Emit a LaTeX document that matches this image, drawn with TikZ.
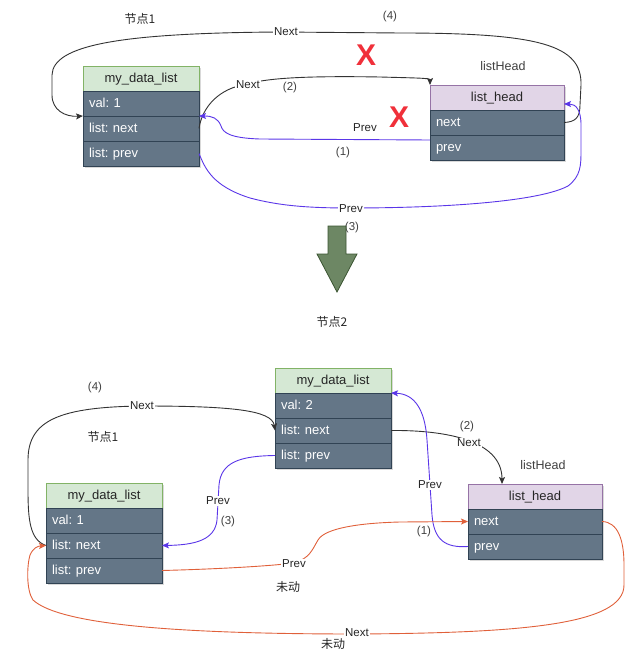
\documentclass[tikz,border=0pt]{standalone}
\usepackage{fontspec}
\setmainfont{Liberation Sans}
\newfontfamily\cjk{Noto Sans CJK SC}
\usetikzlibrary{arrows.meta,shadows,calc}
\definecolor{hdrgreen}{HTML}{D5E8D4}
\definecolor{hdrgreenln}{HTML}{82B366}
\definecolor{hdrpurple}{HTML}{E1D5E7}
\definecolor{hdrpurpleln}{HTML}{9673A6}
\definecolor{rowfill}{HTML}{647687}
\definecolor{rowln}{HTML}{314354}
\definecolor{lnblue}{HTML}{5A36E8}
\definecolor{lnred}{HTML}{E0603A}
\definecolor{lnblack}{HTML}{333333}
\definecolor{arrgreen}{HTML}{6D8764}
\definecolor{arrgreenln}{HTML}{3A5431}
\definecolor{xred}{HTML}{F0303A}
\frenchspacing
\begin{document}
\begin{tikzpicture}[x=1pt,y=-1pt,
  shd/.style={drop shadow={shadow xshift=1.5pt,shadow yshift=-2pt,opacity=0.25,fill=black!60}},
  cell/.style={draw, line width=0.9pt, minimum height=25pt, inner ysep=0pt, outer sep=0pt,
    anchor=north west, text height=10.5pt, text depth=2pt, font=\fontsize{13}{15}\selectfont\frenchspacing, shd},
  hdrA/.style={cell, fill=hdrgreen, draw=hdrgreenln, text=black!85, minimum width=116pt, inner xsep=0pt},
  hdrH/.style={cell, fill=hdrpurple, draw=hdrpurpleln, text=black!85, minimum width=134pt, inner xsep=0pt},
  rowA/.style={cell, fill=rowfill, draw=rowln, text=white, inner xsep=6pt, text width=104pt, align=left},
  rowH/.style={cell, fill=rowfill, draw=rowln, text=white, inner xsep=6pt, text width=122pt, align=left},
  lbl/.style={fill=white, inner sep=1pt, font=\fontsize{11.5}{13}\selectfont, text=black!85},
  txt/.style={inner sep=0pt, font=\fontsize{11.5}{13}\selectfont, text=black!75},
  bigtxt/.style={inner sep=0pt, font=\fontsize{12.5}{14}\selectfont, text=black!75},
  cjktxt/.style={inner sep=0pt, font=\cjk\fontsize{12}{13}\selectfont, text=black!85},
  bigx/.style={inner sep=0pt, text=xred, font=\fontsize{30}{30}\selectfont\bfseries},
  conn/.style={line width=0.9pt, -{Stealth[length=7pt,width=6pt,inset=1.5pt]}},
  cblack/.style={conn, draw=lnblack},
  cblue/.style={conn, draw=lnblue},
  cred/.style={conn, draw=lnred}
]
\useasboundingbox (0,0) rectangle (625,652);

% ---------------- top part ----------------
\node[hdrA] (Ah) at (83,66) {my\_data\_list};
\node[rowA] (Av) at (Ah.south west) {val: 1};
\node[rowA] (An) at (Av.south west) {list: next};
\node[rowA] (Ap) at (An.south west) {list: prev};

\node[hdrH] (Hh) at (430,85) {list\_head};
\node[rowH] (Hn) at (Hh.south west) {next};
\node[rowH] (Hp) at (Hn.south west) {prev};

\node[cjktxt] (t1) at (140,19) {节点1};
\node[txt] (t4) at (390,17) {(4)};
\node[bigtxt] (tlh) at (503,66) {listHead};
\node[bigx] (x1) at (366,55) {X};
\node[bigx] (x2) at (399,117) {X};

% (4) Next
\draw[cblack] (Hn.east) .. controls (575,122) and (580,118) .. (580,105)
  -- (581,85) .. controls (582,45) and (540,33) .. (400,33)
  -- (280,32) .. controls (120,33) and (53,45) .. (52,75)
  -- (52,95) .. controls (52,110) and (65,117) .. (An.north west);
\node[lbl] (l4) at (286,32) {Next};

% (2) Next
\draw[cblack] (An.east) .. controls (202,108) and (218,88) .. (248,84)
  .. controls (270,77) and (320,76) .. (380,77)
  .. controls (415,78) and (430,78) .. (Hh.north west);
\node[lbl] (l2) at (248,85) {Next};
\node[txt] (t2) at (290,88) {(2)};

% (1) Prev
\coordinate (Hpa) at ($(Hp.north west)+(0,5)$);
\draw[cblue] (Hpa) -- (260,139) .. controls (228,138) and (223,132) .. (221,126)
  .. controls (218,118) and (212,116) .. (An.north east);
\node[lbl] (l1) at (365,128) {Prev};
\node[txt] (t1b) at (343,153) {(1)};

% (3) Prev
\coordinate (Hhb) at ($(Hh.south east)+(0,-6)$);
\draw[cblue] (Ap.east) .. controls (205,168) and (212,186) .. (250,198)
  .. controls (280,206) and (310,208) .. (350,208)
  .. controls (450,208) and (540,201) .. (568,186)
  .. controls (581,176) and (581,165) .. (581,150)
  -- (581,125) .. controls (581,110) and (576,104) .. (Hhb);
\node[lbl] (l3) at (351,209) {Prev};
\node[txt] (t3) at (352,228) {(3)};

% big green arrow
\draw[fill=arrgreen, draw=arrgreenln, line width=0.8pt]
  (328,226) -- (346,226) -- (346,254) -- (357,254) -- (337,292) -- (317,254) -- (328,254) -- cycle;
\node[cjktxt] (t5) at (332,322) {节点2};

% ---------------- bottom part ----------------
\node[hdrA] (Bh) at (275,368) {my\_data\_list};
\node[rowA] (Bv) at (Bh.south west) {val: 2};
\node[rowA] (Bn) at (Bv.south west) {list: next};
\node[rowA] (Bp) at (Bn.south west) {list: prev};

\node[hdrA] (Ch) at (46,483) {my\_data\_list};
\node[rowA] (Cv) at (Ch.south west) {val: 1};
\node[rowA] (Cn) at (Cv.south west) {list: next};
\node[rowA] (Cp) at (Cn.south west) {list: prev};

\node[hdrH] (Gh) at (468,484) {list\_head};
\node[rowH] (Gn) at (Gh.south west) {next};
\node[rowH] (Gp) at (Gn.south west) {prev};

\node[txt] (u4) at (95,388) {(4)};
\node[cjktxt] (u1) at (103,437) {节点1};
\node[txt] (u2) at (467,427) {(2)};
\node[bigtxt] (ulh) at (543,465) {listHead};
\node[txt] (u1b) at (424,532) {(1)};
\node[cjktxt] (u6) at (288,587) {未动};
\node[cjktxt] (u7) at (333,644) {未动};

% (4) Next black
\draw[cblack] (Cn.west) .. controls (30,540) and (28,520) .. (28,490)
  -- (28,460) .. controls (28,420) and (60,407) .. (142,406)
  .. controls (230,406) and (272,410) .. (Bn.west);
\node[lbl] (m4) at (142,406) {Next};

% (2) Next black
\coordinate (Gtop) at ($(Gh.north west)+(34,0)$);
\draw[cblack] (Bn.east) .. controls (445,430) and (502,440) .. (Gtop);
\node[lbl] (m2) at (469,443) {Next};

% Prev blue (right)
\draw[cblue] (Gp.west) .. controls (445,548) and (434,540) .. (432,515)
  -- (427,440) .. controls (425,410) and (415,394) .. (Bh.south east);
\node[lbl] (m1) at (430,485) {Prev};

% (3) Prev blue
\draw[cblue] (Bp.west) .. controls (240,456) and (221,462) .. (219,485)
  -- (217,520) .. controls (215,540) and (195,545) .. (Cn.east);
\node[lbl] (m3) at (218,501) {Prev};
\node[txt] (u3) at (228,522) {(3)};

% (1) Prev red
\draw[cred] (Cp.east) .. controls (220,569) and (270,566) .. (294,563)
  .. controls (310,558) and (312,550) .. (318,540)
  .. controls (325,528) and (360,523) .. (400,522) -- (Gn.west);
\node[lbl] (m5) at (294,564) {Prev};

% Next red
\draw[cred] (Gn.east) .. controls (618,522) and (624,540) .. (624,565)
  -- (624,585) .. controls (624,625) and (520,633) .. (357,634)
  .. controls (180,634) and (60,625) .. (33,600)
  .. controls (26,590) and (27,565) .. (30,555)
  .. controls (33,548) and (38,546) .. (Cn.west);
\node[lbl] (m6) at (357,633) {Next};
\end{tikzpicture}
\end{document}
